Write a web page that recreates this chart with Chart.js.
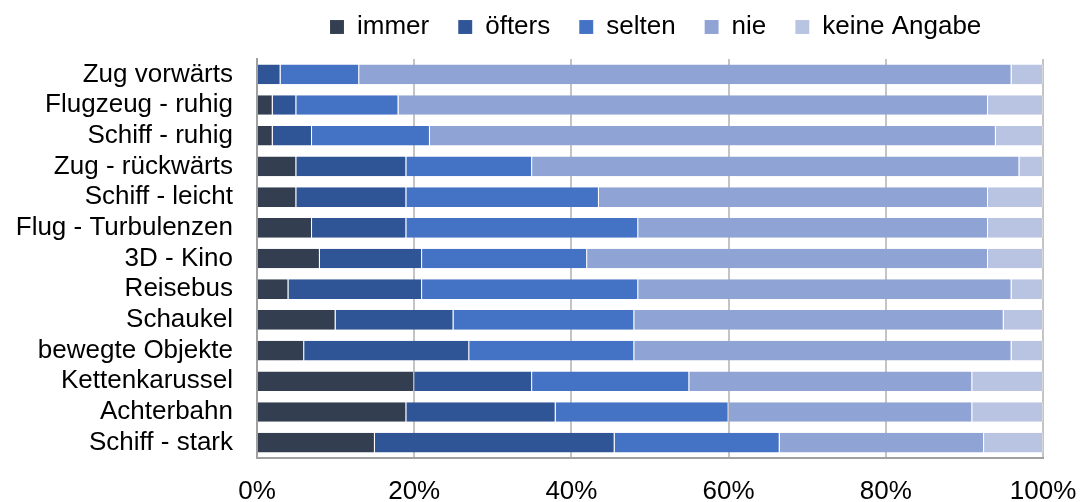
<!DOCTYPE html>
<html>
<head>
<meta charset="utf-8">
<script src="https://cdn.jsdelivr.net/npm/chart.js@4/dist/chart.umd.min.js"></script>
<style>
  body { margin: 0; background: #fff; }
  #wrap { width: 1081px; height: 502px; }
</style>
</head>
<body>
<div id="wrap"><canvas id="motionChart"></canvas></div>
<script>
// categories, top to bottom
const situations = ['Zug vorwärts', 'Flugzeug - ruhig', 'Schiff - ruhig', 'Zug - rückwärts', 'Schiff - leicht',
  'Flug - Turbulenzen', '3D - Kino', 'Reisebus', 'Schaukel', 'bewegte Objekte', 'Kettenkarussel', 'Achterbahn', 'Schiff - stark'];

// percentages per answer
const immer   = [0, 2, 2, 5, 5, 7, 8, 4, 10, 6, 20, 19, 15];
const oefters = [3, 3, 5, 14, 14, 12, 13, 17, 15, 21, 15, 19, 30.5];
const selten  = [10, 13, 15, 16, 24.5, 29.5, 21, 27.5, 23, 21, 20, 22, 21];
const nie     = [83, 75, 72, 62, 49.5, 44.5, 51, 47.5, 47, 48, 36, 31, 26];
const keine   = [4, 7, 6, 3, 7, 7, 7, 4, 5, 4, 9, 9, 7.5];

const xTicks = [0, 20, 40, 60, 80, 100];

const font = { family: "'Liberation Sans', Arial, sans-serif", size: 26 };

function series(label, data, color) {
  return {
    label: label,
    data: data,
    backgroundColor: color,
    borderColor: 'rgba(255,255,255,0.35)',
    borderWidth: { left: 0, right: 1, top: 0, bottom: 0 },
    borderSkipped: false,
    barPercentage: 0.64,
    categoryPercentage: 1
  };
}

// legend: fixed height, and drawn higher / further right than chart.js would
const legendShift = {
  id: 'legendShift',
  beforeInit(chart) {
    const legend = chart.legend;
    const fit = legend.fit;
    legend.fit = function() {
      fit.call(this);
      this.height = 59;
    };
  },
  afterLayout(chart) {
    chart.legend.left = 301;
    chart.legend.top = -15;
  }
};

const ctx = document.getElementById('motionChart').getContext('2d');
const myChart = new Chart(ctx, {
  type: 'bar',
  data: {
    labels: situations,
    datasets: [
      series('immer', immer, '#333f50'),
      series('öfters', oefters, '#2f5597'),
      series('selten', selten, '#4472c4'),
      series('nie', nie, '#8fa3d4'),
      series('keine Angabe', keine, '#b9c3e2')
    ]
  },
  options: {
    indexAxis: 'y',
    responsive: true,
    maintainAspectRatio: false,
    animation: false,
    layout: { padding: { left: 0, right: 38, top: 0, bottom: 0 } },
    plugins: {
      tooltip: { enabled: false },
      legend: {
        position: 'top',
        align: 'start',
        labels: {
          font: font,
          color: '#000',
          boxWidth: 14,
          boxHeight: 14,
          padding: 29
        }
      }
    },
    scales: {
      x: {
        stacked: true,
        min: 0,
        max: 100,
        afterBuildTicks: s => { s.ticks = xTicks.map(v => ({ value: v })); },
        afterFit: s => {
          s.height = 44;
          s.paddingLeft = 0;
          s.paddingRight = 0;
        },
        grid: { color: '#c4c4c4', lineWidth: 2, drawTicks: false },
        border: { color: '#a0a0a0', width: 2 },
        ticks: {
          font: font,
          color: '#000',
          padding: 18,
          callback: v => v + '%'
        }
      },
      y: {
        stacked: true,
        afterFit: s => { s.width = 257; },
        grid: { display: false, drawTicks: false },
        border: { color: '#a0a0a0', width: 2 },
        ticks: { font: font, color: '#000', padding: 24, autoSkip: false }
      }
    }
  },
  plugins: [legendShift]
});
</script>
</body>
</html>
